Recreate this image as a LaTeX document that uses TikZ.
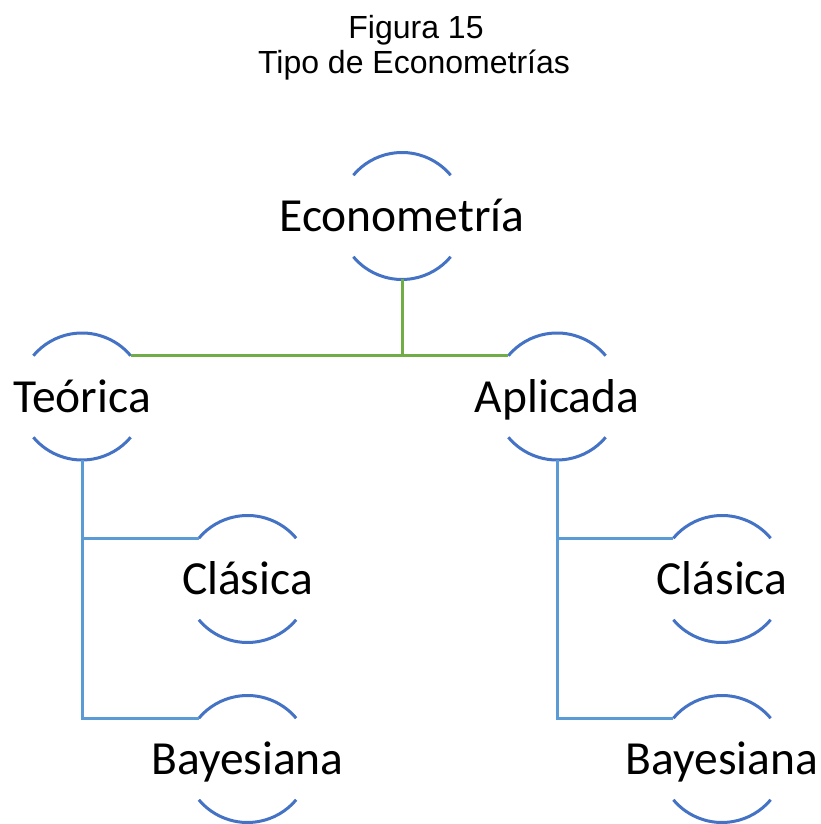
\documentclass[tikz,border=0pt]{standalone}
\usepackage{fontspec}
\setmainfont{Carlito}
\newfontfamily\titlefont{Liberation Sans}
\definecolor{arcblue}{HTML}{4472C4}
\definecolor{linegreen}{HTML}{70AD47}
\definecolor{lineblue}{HTML}{5B9BD5}
\tikzset{
  ring/.style={circle, minimum size=127pt, inner sep=0pt, outer sep=0pt},
  arcline/.style={draw=arcblue, line width=3pt},
  greenline/.style={draw=linegreen, line width=3pt},
  blueline/.style={draw=lineblue, line width=3pt},
  lbl/.style={anchor=base, inner sep=0pt, font=\fontsize{47.5}{56}\selectfont},
  ttl/.style={anchor=base, inner sep=0pt, font=\titlefont\fontsize{32}{37}\selectfont}
}
\begin{document}
\begin{tikzpicture}[x=1pt,y=1pt]
\useasboundingbox (0,0) rectangle (820,824);
\node[ttl] (t1) at (416,785) {Figura 15};
\node[ttl] (t2) at (414,750) {Tipo de Econometrías};

\node[ring] (eco) at (402,608) {};
\node[ring] (teo) at (82,427.5) {};
\node[ring] (apl) at (557,427.5) {};
\node[ring] (cla1) at (247.5,245) {};
\node[ring] (bay1) at (247.5,65) {};
\node[ring] (cla2) at (722,245) {};
\node[ring] (bay2) at (722,65) {};

\foreach \n in {eco,teo,apl,cla1,bay1,cla2,bay2}{
  \draw[arcline] (\n.40) arc[start angle=40, end angle=140, radius=63.5pt];
  \draw[arcline] (\n.220) arc[start angle=220, end angle=320, radius=63.5pt];
}

\node[lbl] (ecot) at ([yshift=-15.5pt]eco.center) {Econometría};
\node[lbl] (teot) at ([yshift=-16pt]teo.center) {Teórica};
\node[lbl] (aplt) at ([yshift=-16pt]apl.center) {Aplicada};
\node[lbl] (cla1t) at ([yshift=-16pt]cla1.center) {Clásica};
\node[lbl] (bay1t) at ([yshift=-16pt]bay1.center) {Bayesiana};
\node[lbl] (cla2t) at ([yshift=-16pt]cla2.center) {Clásica};
\node[lbl] (bay2t) at ([yshift=-16pt]bay2.center) {Bayesiana};

\draw[greenline] (teo.40) -- (apl.140);
\draw[greenline] (eco.south) -- (eco.south |- teo.40);

\draw[blueline] (teo.south) |- (bay1.140);
\draw[blueline] (teo.south |- cla1.140) -- (cla1.140);
\draw[blueline] (apl.south) |- (bay2.140);
\draw[blueline] (apl.south |- cla2.140) -- (cla2.140);
\end{tikzpicture}
\end{document}
